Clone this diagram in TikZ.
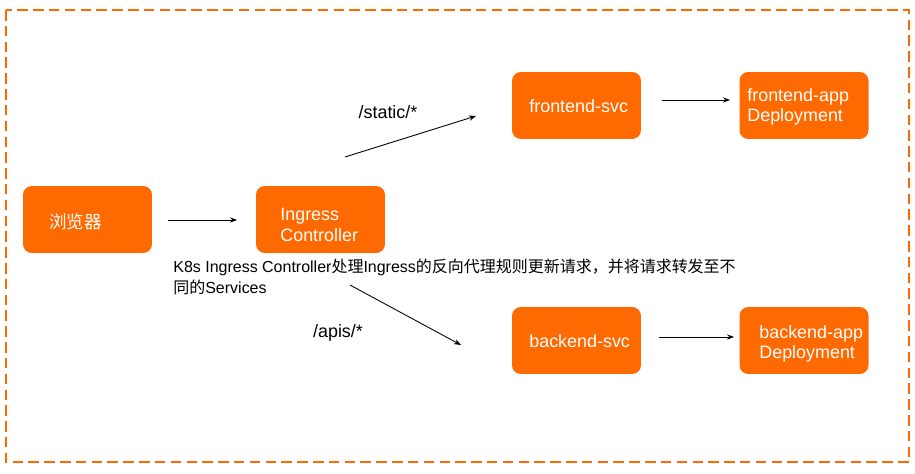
\documentclass[tikz,border=0pt]{standalone}
\usepackage{fontspec}
\setmainfont{Liberation Sans}
\newfontfamily\cjk{Noto Sans CJK SC}
\usetikzlibrary{arrows.meta,positioning}
\definecolor{aliorange}{HTML}{FF6A00}
\begin{document}
\begin{tikzpicture}[x=0.02cm,y=-0.02cm]
	\tikzstyle{box}=[fill=aliorange, rounded corners=5pt, minimum width=2.58cm, minimum height=1.34cm, text=white, inner sep=0pt]
	\tikzstyle{conn}=[line width=0.5pt, -{Stealth[length=4pt,width=3pt]}]
	\tikzstyle{lbl}=[font=\fontsize{10.2}{11.5}\selectfont, inner sep=0pt]
	\useasboundingbox (0,0) rectangle (915,473);
	\draw [aliorange, line width=1.1pt, dash pattern=on 6pt off 3pt] (6,10) rectangle (909,462);
	% boxes
	\node [box] (browser) at (87.5,219.5) {};
	\node [anchor=west, text=white, inner sep=0pt, font=\cjk\fontsize{10}{11}\selectfont] (browsertxt) at (49,222) {浏览器};
	\node [box] (ingress) at (320.5,219.5) {};
	\node [anchor=west, align=left, text=white, lbl] (ingresstxt) at (280,225) {Ingress\\Controller};
	\node [box] (fsvc) at (576.5,105.5) {};
	\node [anchor=west, text=white, lbl] (fsvctxt) at (529,106) {frontend-svc};
	\node [box] (fapp) at (804,105.5) {};
	\node [anchor=west, align=left, text=white, lbl] (fapptxt) at (747,107) {frontend-app\\Deployment};
	\node [box] (bsvc) at (576.5,340.5) {};
	\node [anchor=west, text=white, lbl] (bsvctxt) at (529,341) {backend-svc};
	\node [box] (bapp) at (804,340.5) {};
	\node [anchor=west, align=left, text=white, lbl] (bapptxt) at (759,344) {backend-app\\Deployment};
	% labels
	\node [lbl] (static) at (388,112) {/static/*};
	\node [lbl] (apis) at (338,333) {/apis/*};
	\node [anchor=north west, align=left, inner sep=0pt, font=\fontsize{9.1}{11.5}\selectfont] (note) at (173,259)
		{K8s Ingress Controller{\cjk 处理}Ingress{\cjk 的反向代理规则更新请求，并将请求转发至不}\\{\cjk 同的}Services};
	% connectors
	\coordinate (a1) at (168,220); \coordinate (a2) at (237,220);
	\coordinate (b1) at (345,157); \coordinate (b2) at (476,116);
	\coordinate (c1) at (350,285); \coordinate (c2) at (461,345);
	\coordinate (d1) at (662,100); \coordinate (d2) at (730,100);
	\coordinate (e1) at (659,337); \coordinate (e2) at (734,337);
	\draw [conn] (a1) -- (a2);
	\draw [conn] (b1) -- (b2);
	\draw [conn] (c1) -- (c2);
	\draw [conn] (d1) -- (d2);
	\draw [conn] (e1) -- (e2);
\end{tikzpicture}
\end{document}
